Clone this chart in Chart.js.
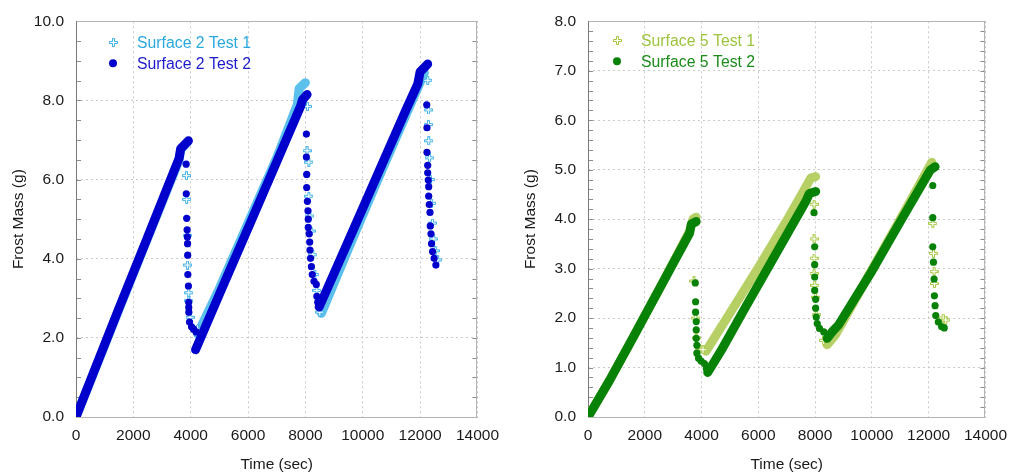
<!DOCTYPE html>
<html>
<head>
<meta charset="utf-8">
<script src="https://cdn.jsdelivr.net/npm/chart.js@4.4.1/dist/chart.umd.min.js"></script>
<style>
  html, body { margin: 0; padding: 0; background: #fff; }
  .panel { position: absolute; top: 0; width: 508px; height: 475px; }
  #left { left: 0; }
  #right { left: 508px; }
</style>
</head>
<body>
<div class="panel" id="left"><canvas id="s2"></canvas></div>
<div class="panel" id="right"><canvas id="s5"></canvas></div>
<script>
// axis ticks
const timeTicks = [0, 2000, 4000, 6000, 8000, 10000, 12000, 14000];
const s2MassTicks = [0, 2, 4, 6, 8, 10];
const s5MassTicks = [0, 1, 2, 3, 4, 5, 6, 7, 8];

// Surface 2 – dense ramps (null splits the frosting cycles) and defrost drops
const s2Test1RampTime = [0, 500, 1500, 2500, 3600, 3650, 3900, null, 4240, 5000, 6000, 7000, 7720, 7780, 8000, null, 8560, 9500, 10500, 11500, 12150];
const s2Test1RampMass = [0, 0.9, 2.72, 4.52, 6.5, 6.75, 6.96, null, 2.1, 3.25, 4.9, 6.55, 7.9, 8.3, 8.45, null, 2.62, 4.25, 5.95, 7.62, 8.7];
const s2Test1DropTime = [3850, 3860, 3880, 3890, 3930, 3930, 3980, 4240, 8070, 8060, 8120, 8120, 8150, 8200, 8260, 8330, 8400, 8500, 12265, 12290, 12290, 12300, 12330, 12360, 12400, 12430, 12470, 12530, 12610];
const s2Test1DropMass = [6.1, 5.5, 4.59, 3.84, 3.14, 2.94, 2.52, 2.22, 7.85, 6.73, 6.44, 5.58, 5.08, 4.7, 4.1, 3.6, 3.2, 2.65, 8.51, 7.76, 7.39, 6.98, 6.55, 6.0, 5.4, 4.9, 4.5, 4.2, 3.97];

const s2Test2RampTime = [0, 500, 1500, 2500, 3600, 3650, 3920, null, 4170, 5000, 6000, 7000, 7830, 7900, 8060, null, 8480, 9500, 10500, 11500, 11920, 12000, 12265];
const s2Test2RampMass = [0, 0.92, 2.75, 4.55, 6.55, 6.78, 6.98, null, 1.70, 3.10, 4.77, 6.45, 7.85, 8.02, 8.15, null, 2.78, 4.45, 6.10, 7.75, 8.42, 8.72, 8.92];
const s2Test2DropTime = [3840, 3845, 3860, 3875, 3885, 3890, 3895, 3900, 3920, 3930, 3932, 3935, 3960, 4030, 4100, 4190,
  8034, 8034, 8045, 8045, 8070, 8090, 8100, 8100, 8130, 8150, 8160, 8180, 8210, 8240, 8300, 8380, 8400, 8430,
  12231, 12240, 12240, 12265, 12265, 12285, 12300, 12300, 12320, 12345, 12355, 12380, 12400, 12435, 12490, 12550];
const s2Test2DropMass = [6.39, 5.64, 5.02, 4.73, 4.55, 4.38, 4.09, 3.60, 3.31, 2.90, 2.77, 2.65, 2.40, 2.28, 2.22, 2.15,
  7.15, 6.57, 6.13, 5.80, 5.45, 5.21, 5.00, 4.79, 4.63, 4.42, 4.22, 4.01, 3.80, 3.60, 3.43, 3.35, 3.05, 2.90,
  7.89, 7.31, 6.69, 6.36, 6.17, 5.99, 5.82, 5.58, 5.37, 5.17, 4.83, 4.63, 4.38, 4.18, 4.01, 3.84];

// Surface 5
const s5Test1RampTime = [0, 760, 1600, 2600, 3580, 3700, 3810, null, 4158, 5000, 6000, 7000, 7847, 8019, null, 8424, 8700, 9000, 10000, 11000, 12110];
const s5Test1RampMass = [0, 0.74, 1.62, 2.68, 3.76, 4.0, 4.04, null, 1.33, 2.1, 3.02, 3.97, 4.83, 4.86, null, 1.46, 1.65, 1.95, 2.98, 4.0, 5.15];
const s5Test1DropTime = [3733, 3790, 3813, 3930, 4050, 7961, 7961, 7961, 7961, 7985, 8019, 8040, 8300, 12144, 12168, 12191, 12202, 12513, 12600];
const s5Test1DropMass = [2.75, 2.0, 1.6, 1.39, 1.36, 4.30, 3.60, 3.21, 2.90, 2.66, 2.42, 2.07, 1.55, 3.91, 3.31, 2.94, 2.70, 2.0, 1.96];

const s5Test2RampTime = [0, 760, 1600, 2600, 3580, 3640, 3810, null, 4217, 4678, 5500, 6500, 7673, 7800, 8019, null, 8424, 8596, 8825, 10000, 11000, 12053, 12226];
const s5Test2RampMass = [0, 0.74, 1.62, 2.68, 3.72, 3.9, 3.95, null, 0.90, 1.33, 2.17, 3.18, 4.36, 4.52, 4.56, null, 1.59, 1.72, 1.86, 2.95, 3.95, 4.99, 5.06];
const s5Test2DropTime = [3778, 3790, 3790, 3813, 3813, 3813, 3836, 3836, 3894, 3985, 4100, 4170,
  7961, 7985, 7985, 7985, 7985, 8019, 8019, 8040, 8075, 8155, 8305,
  12144, 12144, 12144, 12168, 12191, 12202, 12226, 12249, 12340, 12455, 12548];
const s5Test2DropMass = [2.71, 2.33, 2.12, 1.93, 1.76, 1.59, 1.45, 1.29, 1.19, 1.13, 1.08, 0.98,
  4.13, 3.44, 3.08, 2.83, 2.56, 2.38, 2.20, 2.02, 1.89, 1.79, 1.72,
  4.68, 4.03, 3.44, 3.13, 2.79, 2.45, 2.25, 2.05, 1.92, 1.83, 1.80];

const FONT = '"Liberation Sans", Arial, sans-serif';
const tickFont = { family: FONT, size: 15.5 };

function pts(times, masses) {
  return times.map((t, i) => ({ x: t, y: masses[i] }));
}

// hollow "+" marker like the original plot symbol
function hollowCross(color) {
  const c = document.createElement('canvas');
  c.width = 9; c.height = 9;
  const g = c.getContext('2d');
  g.beginPath();
  g.moveTo(3.5, 0.5); g.lineTo(5.5, 0.5); g.lineTo(5.5, 3.5); g.lineTo(8.5, 3.5);
  g.lineTo(8.5, 5.5); g.lineTo(5.5, 5.5); g.lineTo(5.5, 8.5); g.lineTo(3.5, 8.5);
  g.lineTo(3.5, 5.5); g.lineTo(0.5, 5.5); g.lineTo(0.5, 3.5); g.lineTo(3.5, 3.5);
  g.closePath();
  g.fillStyle = '#fff';
  g.fill();
  g.strokeStyle = color;
  g.lineWidth = 1;
  g.stroke();
  return c;
}

const framePlugin = {
  id: 'frame',
  beforeDatasetsDraw(chart, args, opts) {
    const { ctx, chartArea: a, scales: { y } } = chart;
    ctx.save();
    ctx.lineWidth = 1;
    ctx.strokeStyle = '#8c8c8c';
    for (let v = y.min; v <= y.max + 1e-9; v += opts.minorStep) {
      const py = Math.round(y.getPixelForValue(v)) + 0.5;
      ctx.beginPath();
      ctx.moveTo(a.left, py); ctx.lineTo(a.left + 5, py);
      ctx.moveTo(a.right - 5, py); ctx.lineTo(a.right, py);
      ctx.stroke();
    }
    ctx.strokeStyle = '#b4b4b4';
    ctx.strokeRect(Math.round(a.left) + 0.5, Math.round(a.top) + 0.5, Math.round(a.width) - 1, Math.round(a.height));
    ctx.strokeStyle = '#7a7a7a';
    ctx.beginPath();
    ctx.moveTo(Math.round(a.left) + 0.5, a.top);
    ctx.lineTo(Math.round(a.left) + 0.5, a.bottom);
    ctx.stroke();
    ctx.restore();
  }
};

const legendPlugin = {
  id: 'insideLegend',
  afterDraw(chart, args, opts) {
    const { ctx, chartArea: a } = chart;
    ctx.save();
    ctx.font = '15.8px ' + FONT;
    ctx.textBaseline = 'middle';
    chart.data.datasets.forEach(ds => {
      if (ds.legendRow === undefined) return;
      const y = a.top + opts.top + ds.legendRow * opts.rowGap;
      const x = a.left + opts.markX;
      if (ds.pointStyle instanceof HTMLCanvasElement) {
        ctx.drawImage(ds.pointStyle, Math.round(x - 4.5), Math.round(y - 4.5));
      } else {
        ctx.fillStyle = ds.backgroundColor;
        ctx.beginPath();
        ctx.arc(x, y, 4, 0, Math.PI * 2);
        ctx.fill();
      }
      ctx.fillStyle = ds.legendTextColor;
      ctx.fillText(ds.label, a.left + opts.textX, y + 1);
    });
    ctx.restore();
  }
};

function makeDatasets(label1, label2, c1, band1, c2, text1, text2, r1t, r1m, d1t, d1m, r2t, r2m, d2t, d2m) {
  return [
    { label: label2, legendRow: 1, legendTextColor: text2, data: pts(d2t, d2m), order: 0,
      pointStyle: 'circle', pointRadius: 3.6, backgroundColor: c2, borderWidth: 0 },
    { data: pts(r2t, r2m), order: 1, showLine: true, pointRadius: 0, borderColor: c2,
      borderWidth: 9, borderCapStyle: 'round', borderJoinStyle: 'round', spanGaps: false },
    { label: label1, legendRow: 0, legendTextColor: text1, data: pts(d1t, d1m), order: 2,
      pointStyle: hollowCross(c1), pointRadius: 4.5, backgroundColor: c1, borderWidth: 0 },
    { data: pts(r1t, r1m), order: 3, showLine: true, pointRadius: 0, borderColor: band1,
      borderWidth: 9, borderCapStyle: 'round', borderJoinStyle: 'round', spanGaps: false }
  ];
}

function makeOptions(massTicks, massMax, minorStep, yWidth, padRight, titlePad, legendPos) {
  return {
    animation: false,
    responsive: true,
    maintainAspectRatio: false,
    events: [],
    layout: { padding: { top: 13, right: padRight, bottom: 0, left: 0 } },
    scales: {
      x: {
        type: 'linear', min: 0, max: 14000,
        afterBuildTicks: s => { s.ticks = timeTicks.map(v => ({ value: v })); },
        afterFit: s => { s.height = 58; },
        ticks: { padding: 9, color: '#1a1a1a', font: tickFont, maxRotation: 0, callback: v => String(v) },
        grid: { color: '#cacaca', drawTicks: false },
        border: { display: false, dash: [2, 3] },
        title: { display: true, text: 'Time (sec)', color: '#1a1a1a', font: tickFont, padding: { top: 0, bottom: 1 } }
      },
      y: {
        type: 'linear', min: 0, max: massMax,
        afterBuildTicks: s => { s.ticks = massTicks.map(v => ({ value: v })); },
        afterFit: s => { s.width = yWidth; },
        ticks: { padding: 12, color: '#1a1a1a', font: tickFont, callback: v => Number(v).toFixed(1) },
        grid: { color: '#cacaca', drawTicks: false },
        border: { display: false, dash: [2, 3] },
        title: { display: true, text: 'Frost Mass (g)', color: '#1a1a1a', font: tickFont, padding: { top: titlePad, bottom: 0 } }
      }
    },
    plugins: {
      legend: { display: false },
      tooltip: { enabled: false },
      frame: { minorStep: minorStep },
      insideLegend: legendPos
    }
  };
}

new Chart(document.getElementById('s2'), {
  type: 'scatter',
  data: {
    datasets: makeDatasets('Surface 2 Test 1', 'Surface 2 Test 2', '#3bb1e6', '#5cc0ec', '#0000cc', '#2aa9e0', '#1c1ccc',
      s2Test1RampTime, s2Test1RampMass, s2Test1DropTime, s2Test1DropMass,
      s2Test2RampTime, s2Test2RampMass, s2Test2DropTime, s2Test2DropMass)
  },
  options: makeOptions(s2MassTicks, 10, 0.5, 76, 26, 9, { markX: 37, textX: 61, top: 21, rowGap: 21 }),
  plugins: [framePlugin, legendPlugin]
});

new Chart(document.getElementById('s5'), {
  type: 'scatter',
  data: {
    datasets: makeDatasets('Surface 5 Test 1', 'Surface 5 Test 2', '#a5c63b', '#b6d066', '#078207', '#9cc43c', '#1a8c1a',
      s5Test1RampTime, s5Test1RampMass, s5Test1DropTime, s5Test1DropMass,
      s5Test2RampTime, s5Test2RampMass, s5Test2DropTime, s5Test2DropMass)
  },
  options: makeOptions(s5MassTicks, 8, 0.2, 80, 23, 13, { markX: 29, textX: 53, top: 19, rowGap: 21 }),
  plugins: [framePlugin, legendPlugin]
});
</script>
</body>
</html>
